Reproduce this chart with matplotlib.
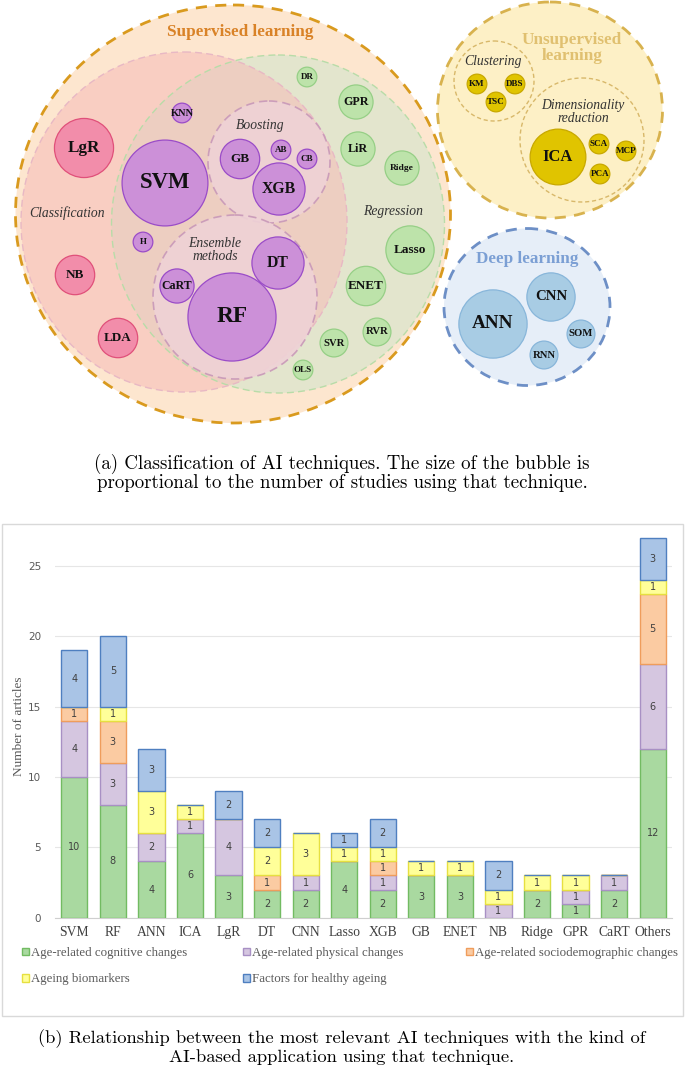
import numpy as np
import matplotlib
matplotlib.use("Agg")
from matplotlib import pyplot as plt
from matplotlib.patches import Circle, Ellipse, Rectangle

# ---- bar chart data (b) ----
techniques = ["SVM", "RF", "ANN", "ICA", "LgR", "DT", "CNN", "Lasso", "XGB",
              "GB", "ENET", "NB", "Ridge", "GPR", "CaRT", "Others"]
cognitive = [10, 8, 4, 6, 3, 2, 2, 4, 2, 3, 3, 0, 2, 1, 2, 12]
physical = [4, 3, 2, 1, 4, 0, 1, 0, 1, 0, 0, 1, 0, 1, 1, 6]
sociodemographic = [1, 3, 0, 0, 0, 1, 0, 0, 1, 0, 0, 0, 0, 0, 0, 5]
biomarkers = [0, 1, 3, 1, 0, 2, 3, 1, 1, 1, 1, 1, 1, 1, 0, 1]
healthy = [4, 5, 3, 0, 2, 2, 0, 1, 2, 0, 0, 2, 0, 0, 0, 3]
series_names = ["Age-related cognitive changes", "Age-related physical changes",
                "Age-related sociodemographic changes", "Ageing biomarkers",
                "Factors for healthy ageing"]

# ---- bubble data (a): name -> number of studies ----
supervised_names = ["LgR", "SVM", "KNN", "GB", "AB", "CB", "XGB", "H", "NB", "DT",
                    "CaRT", "RF", "LDA", "DR", "GPR", "LiR", "Ridge", "Lasso",
                    "ENET", "RVR", "SVR", "OLS"]
supervised_counts = [9, 19, 1, 4, 1, 1, 7, 1, 4, 7, 3, 20, 4, 1, 3, 3, 3, 6, 4, 2, 2, 1]
unsupervised_names = ["KM", "DBS", "TSC", "ICA", "SCA", "MCP", "PCA"]
unsupervised_counts = [1, 1, 1, 8, 1, 1, 1]
deep_names = ["ANN", "CNN", "SOM", "RNN"]
deep_counts = [12, 6, 2, 2]

# layout of the bubble diagram (pixel positions)
pos = {"LgR": (84, 148), "SVM": (165, 183), "KNN": (182, 113), "GB": (240, 159),
       "AB": (281, 150), "CB": (307, 159), "XGB": (279, 189), "H": (143, 242),
       "NB": (75, 275), "DT": (278, 263), "CaRT": (177, 286), "RF": (232, 317),
       "LDA": (118, 338), "DR": (307, 77), "GPR": (356, 102), "LiR": (358, 149),
       "Ridge": (402, 168), "Lasso": (410, 250), "ENET": (366, 286), "RVR": (377, 332),
       "SVR": (334, 343), "OLS": (303, 370),
       "KM": (477, 84), "DBS": (515, 84), "TSC": (496, 102), "ICA": (558, 157),
       "SCA": (599, 144), "MCP": (626, 151), "PCA": (600, 174),
       "ANN": (493, 324), "CNN": (551, 297), "SOM": (581, 334), "RNN": (544, 355)}
classif = {"LgR", "NB", "LDA"}
regress = {"DR", "GPR", "LiR", "Ridge", "Lasso", "ENET", "RVR", "SVR", "OLS"}

fig = plt.figure(figsize=(6.85, 10.71), dpi=100)
fig.patch.set_facecolor("white")

# full-figure canvas in pixel coordinates
cv = fig.add_axes([0, 0, 1, 1])
cv.set_xlim(0, 685)
cv.set_ylim(1071, 0)
cv.axis("off")

serif = ["Liberation Serif", "DejaVu Serif"]

def container(cx, cy, w, h, fc, ec, lw, dash, z):
    cv.add_patch(Ellipse((cx, cy), w, h, facecolor=fc, edgecolor="none", zorder=z))
    cv.add_patch(Ellipse((cx, cy), w, h, facecolor="none", edgecolor=ec, lw=lw,
                         linestyle=(0, dash), zorder=z + 0.5))

# supervised
container(233, 214, 435, 418, "#fde6cf", "#d99a1e", 2.0, (4, 3), 1)
cv.add_patch(Ellipse((278, 224), 333, 338, facecolor="#e3e5cd", edgecolor="none", zorder=2))
cv.add_patch(Ellipse((184, 222), 326, 340, facecolor="#f7bcb8", edgecolor="none", alpha=0.55, zorder=3))
cv.add_patch(Ellipse((278, 224), 333, 338, facecolor="none", edgecolor="#b8dca8", lw=1.0,
                     linestyle=(0, (5, 3)), zorder=3.5))
cv.add_patch(Ellipse((184, 222), 326, 340, facecolor="none", edgecolor="#e8b8c4", lw=1.0,
                     linestyle=(0, (5, 3)), zorder=3.5))
cv.add_patch(Circle((269, 162), 61, facecolor="#efd2d6", edgecolor="#c898b8", lw=1.2,
                    linestyle=(0, (5, 3)), alpha=0.9, zorder=4))
cv.add_patch(Circle((235, 297), 82, facecolor="#efd2d6", edgecolor="#c898b8", lw=1.2,
                    linestyle=(0, (5, 3)), alpha=0.9, zorder=4))

# unsupervised
container(550, 110, 225, 216, "#fdf0c6", "#d8b24e", 2.0, (4, 3), 1)
cv.add_patch(Circle((494, 81), 40, facecolor="none", edgecolor="#d8b86a", lw=1.0,
                    linestyle=(0, (3, 2)), zorder=4))
cv.add_patch(Circle((582, 140), 62, facecolor="none", edgecolor="#d8b86a", lw=1.0,
                    linestyle=(0, (3, 2)), zorder=4))

# deep learning
container(527, 307, 166, 157, "#e6eef8", "#6d8fc6", 2.0, (4, 3), 1)

cv.text(240, 32, "Supervised learning", ha="center", va="center", color="#d98227",
        fontsize=12.3, fontweight="bold", family=serif, zorder=6)
cv.text(572, 48, "Unsupervised\nlearning", ha="center", va="center", color="#e0c070",
        fontsize=12.3, fontweight="bold", family=serif, linespacing=1.0, zorder=6)
cv.text(527, 259, "Deep learning", ha="center", va="center", color="#7b9fd4",
        fontsize=12.3, fontweight="bold", family=serif, zorder=6)
for x, y, s in [(67, 213, "Classification"), (393, 211, "Regression"),
                (260, 125, "Boosting"), (215, 250, "Ensemble\nmethods"),
                (493, 61, "Clustering"), (583, 112, "Dimensionality\nreduction")]:
    cv.text(x, y, s, ha="center", va="center", style="italic", color="#333333",
            fontsize=9.8, family=serif, linespacing=1.05, zorder=6)

def bubbles(names, counts, pick):
    for n, c in zip(names, counts):
        r = 9.85 * np.sqrt(c)
        fc, ec = pick(n)
        x, y = pos[n]
        cv.add_patch(Circle((x, y), r, facecolor=fc, edgecolor=ec, lw=0.9, zorder=5))
        fs = min(3.5 + 0.3 * r, 2.0 * r / len(n))
        if n == "KNN":
            fs = 7.5
        cv.text(x, y, n, ha="center", va="center", fontsize=fs, fontweight="bold",
                family=serif, color="#111111", zorder=6)

def sup_color(n):
    if n in classif:
        return "#f28daa", "#e0507a"
    if n in regress:
        return "#bde3aa", "#96cf86"
    return "#cc90d8", "#9a4cc8"

bubbles(supervised_names, supervised_counts, sup_color)
bubbles(unsupervised_names, unsupervised_counts, lambda n: ("#e0c400", "#c8a800"))
bubbles(deep_names, deep_counts, lambda n: ("#a8cce4", "#88b6da"))

cap = ["cmr10", "DejaVu Serif"]
cv.text(342, 464, "(a) Classification of AI techniques. The size of the bubble is",
        ha="center", va="center", fontsize=13.6, family=cap)
cv.text(342, 483, "proportional to the number of studies using that technique.",
        ha="center", va="center", fontsize=13.6, family=cap)
cv.text(342, 1039, "(b) Relationship between the most relevant AI techniques with the kind of",
        ha="center", va="center", fontsize=13.4, family=cap)
cv.text(342, 1057, "AI-based application using that technique.",
        ha="center", va="center", fontsize=13.4, family=cap)

# panel frame of (b)
cv.add_patch(Rectangle((2, 524), 681, 492, facecolor="white", edgecolor="#d9d9d9", lw=1.0, zorder=1))

# ---- stacked bars ----
ax = fig.add_axes([55 / 685, 1 - 917.7 / 1071, 617 / 685, (917.7 - 535) / 1071])
ax.patch.set_alpha(0)
fills = ["#a9d9a0", "#d5c6e0", "#fbcba2", "#ffff99", "#a9c4e6"]
edges = ["#72bb62", "#a890c4", "#ef9d5c", "#e6e040", "#4f7fc0"]
data = [cognitive, physical, sociodemographic, biomarkers, healthy]
x = np.arange(len(techniques))
bottom = np.zeros(len(techniques))
handles = []
for vals, fc, ec, name in zip(data, fills, edges, series_names):
    vals = np.array(vals)
    b = ax.bar(x, vals, 0.68, bottom=bottom, color=fc, edgecolor=ec, lw=1.0,
               label=name, zorder=3)
    handles.append(b)
    for xi, v, bt in zip(x, vals, bottom):
        if v > 0:
            ax.text(xi, bt + v / 2, str(v), ha="center", va="center", fontsize=7,
                    color="#404040", zorder=4)
    bottom = bottom + vals

ax.set_xlim(-0.5, len(techniques) - 0.5)
ax.set_ylim(0, 27.2)
ax.set_yticks([0, 5, 10, 15, 20, 25])
ax.yaxis.grid(True, color="#e6e6e6", lw=0.8, zorder=0)
for s in ["top", "right", "left"]:
    ax.spines[s].set_visible(False)
ax.spines["bottom"].set_color("#cfcfcf")
ax.tick_params(axis="both", length=0)
ax.tick_params(axis="y", labelsize=7.5, labelcolor="#595959", pad=10)
ax.set_xticks(x)
ax.set_xticklabels(techniques, family=serif, fontsize=9.8, color="#404040")
ax.tick_params(axis="x", pad=6)
ax.set_ylabel("Number of articles", family=serif, fontsize=9.5, color="#595959", labelpad=2)

# legend, laid out row by row in three columns
col_x = [22, 243, 466]
rows = [[0, 1, 2], [3, 4]]
for ci, cx in enumerate(col_x):
    idx = [r[ci] for r in rows if ci < len(r)]
    leg = fig.legend(handles=[handles[i] for i in idx], labels=[series_names[i] for i in idx],
                     loc="upper left", bbox_to_anchor=(cx / 685, 1 - 947 / 1071),
                     frameon=False, borderaxespad=0, borderpad=0,
                     prop={"family": serif, "size": 9.3}, handlelength=0.55, handleheight=0.55,
                     handletextpad=0.15, labelspacing=1.1)
    for t in leg.get_texts():
        t.set_color("#595959")

fig.savefig("out.png", dpi=100)
